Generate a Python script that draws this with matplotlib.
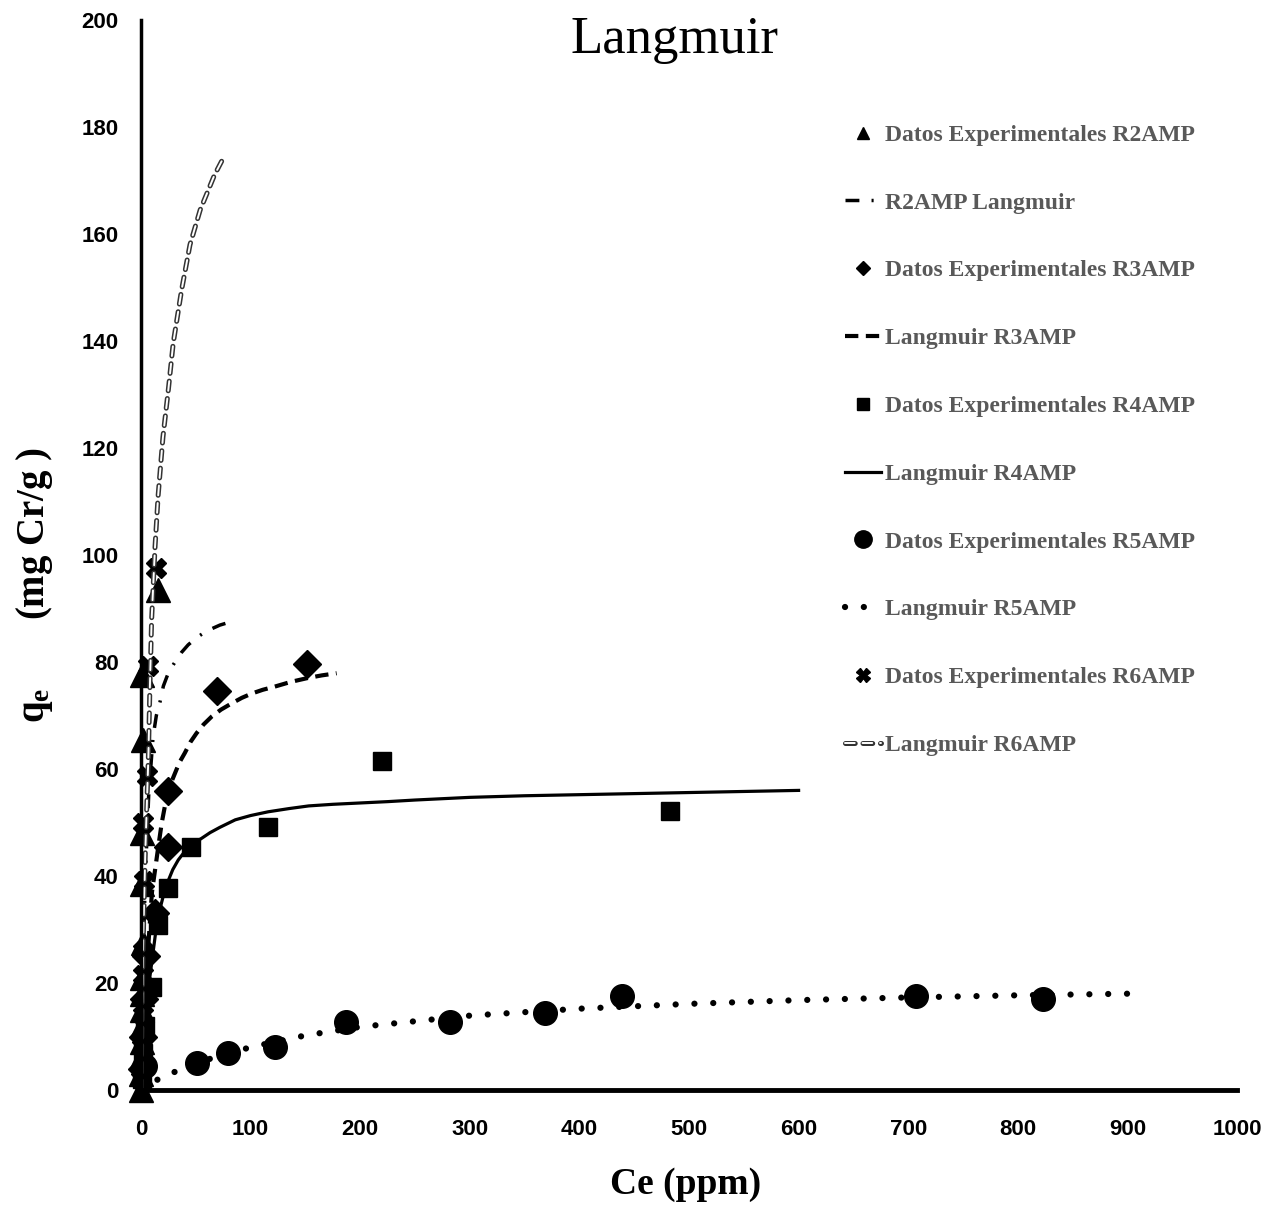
import matplotlib
matplotlib.use('Agg')
import matplotlib.pyplot as plt
import matplotlib.patheffects as pe
from matplotlib import font_manager

# Data
r2_ce = [0.0, 0.2, 0.4, 0.5, 0.6, 0.8, 1.0, 1.2, 1.5, 0.5, 0.8, 1.5, 0.6, 15.2]
r2_q = [0.0, 3.0, 6.0, 9.0, 12.0, 15.0, 18.0, 21.0, 27.5, 38.5, 48.0, 65.5, 77.5, 93.5]
r2_fit_ce = [0, 0.5, 2, 4, 7, 11, 14, 17.3, 20.4, 25, 31, 37, 43, 51, 60, 72, 85]
r2_fit_q = [0, 8, 25, 40, 55, 66, 70, 72.5, 75.5, 78, 80, 81.8, 83.2, 84.6, 85.8, 86.9, 87.7]

r3_ce = [0.5, 1.5, 3.0, 5.0, 12.8, 24.9, 24.9, 69, 151.8]
r3_q = [4, 10, 17, 25, 33, 45.4, 55.8, 74.6, 79.6]
r3_fit_ce = [0, 2, 5, 10, 15.8, 18.9, 23.4, 27, 31, 35, 40, 45, 50.7, 57, 64.5, 73, 83, 92, 101,
             111, 122, 137, 152, 165, 178.5]
r3_fit_q = [0, 10, 22, 37, 45.5, 49.9, 54.8, 57.2, 59.2, 61.2, 63, 65, 66.7, 68.3, 69.8, 71.1,
            72.3, 73.3, 74.1, 74.8, 75.4, 76.3, 77, 77.5, 77.9]

r4_ce = [0.5, 2, 4, 9.7, 15.8, 24.3, 46, 116, 220, 483]
r4_q = [2, 7, 12, 19.3, 30.8, 37.7, 45.5, 49.2, 61.5, 52.1]
r4_fit_ce = [0, 3, 8, 15, 20, 24.6, 29, 34, 40, 47, 55, 63, 72, 86, 100, 116, 135, 153, 175, 195,
             225, 250, 300, 350, 400, 450, 500, 550, 600]
r4_fit_q = [0, 9, 21, 32, 36, 39, 41.2, 43, 44.6, 46, 47, 48.1, 49.1, 50.5, 51.3, 52, 52.6, 53.1,
            53.4, 53.6, 53.9, 54.2, 54.7, 55, 55.2, 55.4, 55.6, 55.8, 56.0]

r5_ce = [3.6, 50.7, 79.7, 122, 187, 282, 369, 439, 707, 823]
r5_q = [4.4, 5.0, 6.9, 8.0, 12.7, 12.7, 14.4, 17.6, 17.6, 17.0]
r5_fit_ce = [0, 20, 31, 42, 64, 100, 150, 200, 300, 400, 500, 600, 700, 800, 900]
r5_fit_q = [0.2, 2.5, 3.4, 4.4, 5.9, 8.0, 10.2, 11.8, 13.9, 15.2, 16.1, 16.8, 17.3, 17.7, 18.0]

r6_ce = [0.3, 0.8, 1.5, 2.0, 2.0, 2.5, 2.1, 5.2, 6.7, 13.4]
r6_q = [2, 8, 14, 21.5, 26, 39, 50, 58.6, 79.3, 97.5]
r6_fit_ce = [0, 1, 2, 4, 6.7, 8.2, 9.7, 12.8, 15.6, 20, 25, 29.4, 37, 44.7, 54, 67, 74.6]
r6_fit_q = [0, 15, 28, 45, 62, 76, 88, 101.5, 111, 122, 131, 139.6, 149.5, 158, 164.5, 171, 174]

x_ticks = [0, 100, 200, 300, 400, 500, 600, 700, 800, 900, 1000]
y_ticks = [0, 20, 40, 60, 80, 100, 120, 140, 160, 180, 200]

names = [f.name for f in font_manager.fontManager.ttflist]
tick_font = 'Liberation Sans Narrow' if 'Liberation Sans Narrow' in names else 'Liberation Sans'
serif = 'Liberation Serif'

plt.rcParams['mathtext.fontset'] = 'custom'
plt.rcParams['mathtext.rm'] = 'Liberation Serif:bold'
plt.rcParams['mathtext.it'] = 'Liberation Serif:bold'

fig = plt.figure(figsize=(12.73, 12.09), dpi=100)
ax = fig.add_axes([141 / 1273, 1 - 1090 / 1209, (1237 - 141) / 1273, (1090 - 20) / 1209])

ax.plot(r2_ce, r2_q, '^', color='black', ms=17, clip_on=False, label='Datos Experimentales R2AMP')
ax.plot(r2_fit_ce, r2_fit_q, color='black', lw=2.5, linestyle=(0, (4, 3.5, 0.6, 3.5)),
        label='R2AMP Langmuir')
ax.plot(r3_ce, r3_q, 'D', color='black', ms=14, clip_on=False, label='Datos Experimentales R3AMP')
ax.plot(r3_fit_ce, r3_fit_q, color='black', lw=3, linestyle=(0, (3.2, 1.8)),
        label='Langmuir R3AMP')
ax.plot(r4_ce, r4_q, 's', color='black', ms=13, clip_on=False, label='Datos Experimentales R4AMP')
ax.plot(r4_fit_ce, r4_fit_q, color='black', lw=2.3, label='Langmuir R4AMP')
ax.plot(r5_ce, r5_q, 'o', color='black', ms=17, clip_on=False, label='Datos Experimentales R5AMP')
ax.plot(r5_fit_ce, r5_fit_q, color='black', lw=4.5, linestyle=(0, (0.01, 3.0)),
        dash_capstyle='round', label='Langmuir R5AMP')
ax.plot(r6_ce, r6_q, 'X', color='black', ms=15, clip_on=False, label='Datos Experimentales R6AMP')
ax.plot(r6_fit_ce, r6_fit_q, color='white', lw=1.4, linestyle=(0, (5, 4)),
        dash_capstyle='round',
        path_effects=[pe.Stroke(linewidth=3.6, foreground='#333333'), pe.Normal()],
        label='Langmuir R6AMP')

ax.set_xlim(0, 1000)
ax.set_ylim(0, 200)
ax.set_xticks(x_ticks)
ax.set_yticks(y_ticks)
ax.tick_params(length=0)
ax.tick_params(axis='x', pad=21)
ax.tick_params(axis='y', pad=16)
for lab in ax.get_xticklabels() + ax.get_yticklabels():
    lab.set_fontfamily(tick_font)
    lab.set_fontweight('bold')
    lab.set_fontsize(16)

for s in ['top', 'right']:
    ax.spines[s].set_visible(False)
ax.spines['left'].set_linewidth(2.5)
ax.spines['bottom'].set_linewidth(3.5)

fig.text(674 / 1273, 1 - 40 / 1209, 'Langmuir', family=serif, fontsize=38,
         ha='center', va='center')
fig.text(686 / 1273, 1 - 1185 / 1209, 'Ce (ppm)', family=serif, fontsize=27,
         fontweight='bold', ha='center', va='center')
fig.text(35 / 1273, 1 - 585 / 1209, r'$\mathrm{q_e}$       (mg Cr/g )', family=serif,
         fontsize=28, fontweight='bold', rotation=90, ha='center', va='center')

leg = ax.legend(loc='upper left', bbox_to_anchor=(824 / 1273, 1 - 103 / 1209),
                bbox_transform=fig.transFigure, frameon=False, markerscale=0.5,
                handlelength=1.5, handletextpad=0.2, labelspacing=1.96,
                prop={'family': serif, 'weight': 'bold', 'size': 17})
for t in leg.get_texts():
    t.set_color('#595959')
# legend marker sizes as in the reference
for h, ms in zip(leg.legend_handles, [8, None, 7.5, None, 8, None, 12.5, None, 10, None]):
    if ms is not None:
        h.set_markersize(ms)

fig.savefig('out.png', dpi=100)
